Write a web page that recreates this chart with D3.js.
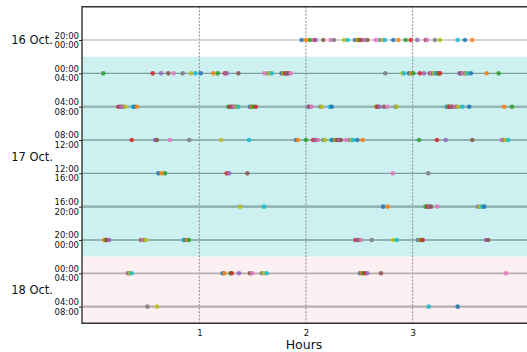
<!DOCTYPE html>
<html>
<head>
<meta charset="utf-8">
<script src="https://cdn.jsdelivr.net/npm/d3@7"></script>
<style>
  body { margin: 0; background: #fff; }
  text { font-family: "DejaVu Sans", sans-serif; fill: #111; }
</style>
</head>
<body>
<div id="chart"></div>
<script>
// time slots (one row each), top to bottom
var slotStart = ["20:00", "00:00", "04:00", "08:00", "12:00", "16:00", "20:00", "00:00", "04:00"];
var slotEnd   = ["00:00", "04:00", "08:00", "12:00", "16:00", "20:00", "00:00", "04:00", "08:00"];
var slotDay   = [0, 1, 1, 1, 1, 1, 1, 2, 2];
var days = ["16 Oct.", "17 Oct.", "18 Oct."];
var hourTicks = [1, 2, 3];

// event times (hours into the slot), per row
var row0 = [1.960, 2.000, 2.037, 2.078, 2.091, 2.162, 2.231, 2.262, 2.356, 2.391, 2.459, 2.481, 2.500, 2.515, 2.537, 2.575,
            2.653, 2.693, 2.719, 2.740, 2.818, 2.865, 2.934, 2.981, 3.043, 3.122, 3.134, 3.209, 3.256, 3.422, 3.490, 3.559];
var row1 = [0.100, 0.563, 0.641, 0.709, 0.760, 0.844, 0.922, 0.963, 1.013, 1.131, 1.172, 1.241, 1.257, 1.366, 1.609, 1.644,
            1.656, 1.679, 1.772, 1.787, 1.803, 1.813, 1.825, 1.834, 1.857, 2.743, 2.903, 2.918, 2.965, 2.984, 3.006, 3.068,
            3.106, 3.162, 3.176, 3.190, 3.204, 3.218, 3.232, 3.242, 3.246, 3.256, 3.437, 3.453, 3.471, 3.490, 3.504, 3.515,
            3.546, 3.694, 3.806];
var row2 = [0.241, 0.257, 0.271, 0.280, 0.294, 0.308, 0.376, 0.391, 0.416, 1.272, 1.288, 1.304, 1.316, 1.330, 1.344, 1.353,
            1.366, 1.475, 1.489, 1.503, 1.529, 2.022, 2.033, 2.053, 2.136, 2.147, 2.225, 2.241, 2.656, 2.665, 2.675, 2.687,
            2.731, 2.762, 2.839, 2.850, 3.319, 3.326, 3.334, 3.340, 3.350, 3.366, 3.378, 3.396, 3.412, 3.427, 3.465, 3.530,
            3.856, 3.931];
var row3 = [0.366, 0.585, 0.601, 0.725, 0.906, 1.203, 1.466, 1.906, 1.922, 2.000, 2.068, 2.084, 2.100, 2.112, 2.164, 2.178,
            2.234, 2.248, 2.272, 2.286, 2.300, 2.309, 2.328, 2.375, 2.412, 2.428, 2.443, 2.481, 2.531, 3.059, 3.228, 3.309,
            3.559, 3.834, 3.851, 3.870, 3.896];
var row4 = [0.616, 0.648, 0.679, 1.257, 1.281, 1.450, 2.813, 3.146];
var row5 = [1.381, 1.606, 2.724, 2.766, 3.122, 3.141, 3.156, 3.171, 3.231, 3.615, 3.631, 3.652, 3.671];
var row6 = [0.107, 0.123, 0.138, 0.154, 0.454, 0.470, 0.485, 0.498, 0.850, 0.866, 0.882, 0.903, 2.466, 2.483, 2.497, 2.515,
            2.616, 2.818, 2.853, 3.052, 3.066, 3.080, 3.094, 3.687, 3.708];
var row7 = [0.327, 0.336, 0.351, 0.366, 1.219, 1.234, 1.292, 1.304, 1.372, 1.475, 1.497, 1.585, 1.606, 1.632, 2.506, 2.522,
            2.537, 2.553, 2.575, 2.703, 3.874];
var row8 = [0.513, 0.604, 3.150, 3.422];
var rows = [row0, row1, row2, row3, row4, row5, row6, row7, row8];

var dayFill = ["#ffffff", "#cdf1f0", "#fdf0f2"];
var lineColor = ["#c4c4c4", "#7d9f9f", "#94b6b4", "#7d9f9f", "#7d9f9f", "#94b6b4", "#7d9f9f", "#b9acad", "#b9acad"];
var lineWidth = [1.6, 1.4, 2.6, 1.4, 1.4, 2.6, 1.4, 1.8, 2.2];

var margin = {top: 6.7, left: 82};
var width = 448, height = 316.6;

var svg = d3.select("#chart").append("svg")
    .attr("width", 527)
    .attr("height", 352)
  .append("g")
    .attr("transform", "translate(" + margin.left + "," + margin.top + ")");

var x = d3.scaleLinear().domain([-0.1, 4.1]).range([0, width]);
var y = d3.scaleLinear().domain([-1, 8.5]).range([0, height]);

// day backgrounds
days.forEach(function(d, i) {
  var idx = d3.range(slotDay.length).filter(function(r) { return slotDay[r] == i; });
  var top = i == 0 ? y.domain()[0] : idx[0] - 0.5;
  var bot = i == days.length - 1 ? y.domain()[1] : idx[idx.length - 1] + 0.5;
  svg.append("rect")
    .attr("x", 0).attr("width", width)
    .attr("y", y(top)).attr("height", y(bot) - y(top))
    .attr("fill", dayFill[i]);

  svg.append("text")
    .attr("x", -29)
    .attr("y", y(d3.mean(idx)))
    .attr("dy", "0.36em")
    .attr("text-anchor", "end")
    .attr("font-size", "11.5px")
    .text(d);
});

// dashed hour lines
svg.selectAll(".vgrid").data(hourTicks).enter().append("line")
    .attr("x1", function(d) { return x(d); }).attr("x2", function(d) { return x(d); })
    .attr("y1", 0).attr("y2", height)
    .attr("stroke", "#8a8a8a")
    .attr("stroke-width", 1)
    .attr("stroke-dasharray", "2,1.5");

// row lines
svg.selectAll(".rowline").data(rows).enter().append("line")
    .attr("x1", 0).attr("x2", width)
    .attr("y1", function(d, i) { return y(i); }).attr("y2", function(d, i) { return y(i); })
    .attr("stroke", function(d, i) { return lineColor[i]; })
    .attr("stroke-width", function(d, i) { return lineWidth[i]; });

// events, colours cycle through all of them in order
var events = [];
rows.forEach(function(r, i) { r.forEach(function(h) { events.push({row: i, h: h}); }); });
var pal = d3.schemeCategory10;

svg.selectAll(".ev").data(events).enter().append("circle")
    .attr("cx", function(d) { return x(d.h); })
    .attr("cy", function(d) { return y(d.row); })
    .attr("r", 2.3)
    .attr("fill", function(d, i) { return pal[i % 10]; })
    .attr("fill-opacity", 0.85);

// x axis
var xAxis = svg.append("g")
    .attr("transform", "translate(0," + height + ")")
    .call(d3.axisBottom(x).tickValues(hourTicks).tickSize(0).tickPadding(7).tickFormat(d3.format("d")));
xAxis.select(".domain").remove();
xAxis.selectAll("text").attr("font-size", "8.5px").attr("font-family", "DejaVu Sans");

svg.append("text")
    .attr("x", 222)
    .attr("y", height + 26)
    .attr("text-anchor", "middle")
    .attr("font-size", "12.5px")
    .text("Hours");

// y axis: ticks, two-line labels
var yAxis = svg.append("g")
    .call(d3.axisLeft(y).tickValues(d3.range(rows.length)).tickSize(3).tickFormat(""));
yAxis.select(".domain").remove();
yAxis.selectAll("line").attr("stroke", "#222");

rows.forEach(function(r, i) {
  var t = svg.append("text")
      .attr("text-anchor", "end")
      .attr("font-size", "8.5px");
  t.append("tspan").attr("x", -3).attr("y", y(i) - 1.5).text(slotStart[i]);
  t.append("tspan").attr("x", -3).attr("y", y(i) + 8).text(slotEnd[i]);
});

// spines
svg.append("path")
    .attr("d", "M" + width + ",0H0V" + height + "H" + width)
    .attr("fill", "none")
    .attr("stroke", "#333")
    .attr("stroke-width", 1.4);
</script>
</body>
</html>
